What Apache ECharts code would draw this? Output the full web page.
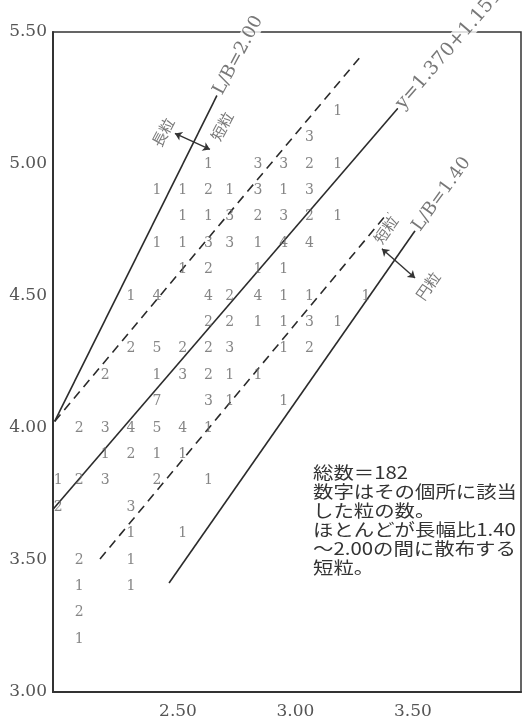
<!DOCTYPE html>
<html>
<head>
<meta charset="utf-8">
<script src="https://cdn.jsdelivr.net/npm/echarts@6/dist/echarts.min.js"></script>
<style>
  html, body { margin: 0; padding: 0; background: #fff; }
  #chart { width: 523px; height: 725px; }
</style>
</head>
<body>
<div id="chart"></div>
<script>
// 軸の範囲
const xMin = 1.968, xMax = 3.96;
const yMin = 3.0, yMax = 5.5;
const xTickValues = [2.5, 3.0, 3.5];

// 粒数の格子: 列の x / 行の y
const colX = [1.99, 2.08, 2.19, 2.30, 2.41, 2.52, 2.63, 2.72, 2.84, 2.95, 3.06, 3.18, 3.30];
const rowY = [5.2, 5.1, 5.0, 4.9, 4.8, 4.7, 4.6, 4.5, 4.4, 4.3, 4.2, 4.1, 4.0, 3.9, 3.8, 3.7, 3.6, 3.5, 3.4, 3.3, 3.2];
const grainCounts = [
  [0,0,0,0,0,0,0,0,0,0,0,1,0], // 5.2
  [0,0,0,0,0,0,0,0,0,0,3,0,0], // 5.1
  [0,0,0,0,0,0,1,0,3,3,2,1,0], // 5.0
  [0,0,0,0,1,1,2,1,3,1,3,0,0], // 4.9
  [0,0,0,0,0,1,1,3,2,3,2,1,0], // 4.8
  [0,0,0,0,1,1,3,3,1,4,4,0,0], // 4.7
  [0,0,0,0,0,1,2,0,1,1,0,0,0], // 4.6
  [0,0,0,1,4,0,4,2,4,1,1,0,1], // 4.5
  [0,0,0,0,0,0,2,2,1,1,3,1,0], // 4.4
  [0,0,0,2,5,2,2,3,0,1,2,0,0], // 4.3
  [0,0,2,0,1,3,2,1,1,0,0,0,0], // 4.2
  [0,0,0,0,7,0,3,1,0,1,0,0,0], // 4.1
  [0,2,3,4,5,4,1,0,0,0,0,0,0], // 4.0
  [0,0,1,2,1,1,0,0,0,0,0,0,0], // 3.9
  [1,2,3,0,2,0,1,0,0,0,0,0,0], // 3.8
  [2,0,0,3,0,0,0,0,0,0,0,0,0], // 3.7
  [0,0,0,1,0,1,0,0,0,0,0,0,0], // 3.6
  [0,2,0,1,0,0,0,0,0,0,0,0,0], // 3.5
  [0,1,0,1,0,0,0,0,0,0,0,0,0], // 3.4
  [0,2,0,0,0,0,0,0,0,0,0,0,0], // 3.3
  [0,1,0,0,0,0,0,0,0,0,0,0,0]  // 3.2
];

// 境界線・回帰線 (始点, 終点)
const lineLB200 = [[1.975, 4.025], [2.666, 5.26]];
const lineLB140 = [[2.462, 3.413], [3.509, 4.747]];
const lineRegression = [[1.970, 3.694], [3.436, 5.211]];
const dashUpper = [[1.975, 4.025], [3.283, 5.413]];
const dashLower = [[2.168, 3.504], [3.394, 4.816]];

// 矢印と区分名
const arrowUpper = [[2.487, 5.116], [2.636, 5.055]];
const arrowLower = [[3.368, 4.679], [3.509, 4.568]];
const zoneNames = ['長粒', '短粒', '短粒', '円粒'];
const zonePos = [[2.436, 5.120], [2.687, 5.143], [3.385, 4.751], [3.564, 4.538]];
const zoneRot = [62, 62, 55, 55];

const noteLines = [
  '総数＝182',
  '数字はその個所に該当',
  'した粒の数。',
  'ほとんどが長幅比1.40',
  '～2.00の間に散布する',
  '短粒。'
];

const serif = '"DejaVu Serif", "Liberation Serif", serif';
const cjk = '"Noto Sans CJK JP", sans-serif';

const countData = [];
grainCounts.forEach((row, i) => {
  row.forEach((n, j) => {
    if (n > 0) countData.push([colX[j], rowY[i], n]);
  });
});

function lineSeries(data, dashed) {
  return {
    type: 'line',
    data: data,
    symbol: 'none',
    silent: true,
    lineStyle: { color: '#2b2b2b', width: 1.6, type: dashed ? [9, 6] : 'solid' },
    z: 2
  };
}

const chart = echarts.init(document.getElementById('chart'));
chart.setOption({
  animation: false,
  backgroundColor: '#fff',
  grid: { left: 53, right: 2, top: 32, bottom: 33, show: true, borderColor: '#333', borderWidth: 1.5 },
  xAxis: {
    type: 'value', min: xMin, max: xMax,
    axisLine: { show: true, lineStyle: { color: '#333', width: 2 } },
    axisTick: { show: false },
    splitLine: { show: false },
    axisLabel: {
      customValues: xTickValues,
      formatter: v => v.toFixed(2),
      color: '#555', fontFamily: serif, fontSize: 17, margin: 11
    }
  },
  yAxis: {
    type: 'value', min: yMin, max: yMax, interval: 0.5,
    axisLine: { show: true, lineStyle: { color: '#333', width: 2 } },
    axisTick: { show: false },
    splitLine: { show: false },
    axisLabel: { formatter: v => v.toFixed(2), color: '#555', fontFamily: serif, fontSize: 17, margin: 6 }
  },
  series: [
    lineSeries(lineLB200, false),
    lineSeries(lineLB140, false),
    lineSeries(lineRegression, false),
    lineSeries(dashUpper, true),
    lineSeries(dashLower, true),
    {
      type: 'scatter',
      data: countData,
      symbolSize: 0,
      silent: true,
      z: 3,
      label: {
        show: true, position: 'inside',
        formatter: p => p.value[2],
        color: '#666', fontFamily: serif, fontSize: 14
      }
    },
    {
      // 線端のラベル
      type: 'scatter',
      symbolSize: 0,
      silent: true,
      z: 4,
      label: {
        show: true, position: 'inside', align: 'left', verticalAlign: 'middle',
        formatter: '{b}', color: '#555', fontFamily: serif, fontSize: 18,
        backgroundColor: '#fff', padding: [0, 2]
      },
      data: [
        { name: 'L/B=2.00', value: lineLB200[1], label: { rotate: 62 } },
        { name: 'y=1.370+1.151x', value: lineRegression[1], label: { rotate: 49, fontSize: 19 } },
        { name: 'L/B=1.40', value: lineLB140[1], label: { rotate: 54 } }
      ]
    },
    {
      type: 'scatter',
      symbolSize: 0,
      silent: true,
      z: 4,
      label: { show: true, position: 'inside', formatter: '{b}', color: '#555', fontFamily: cjk, fontSize: 15 },
      data: zoneNames.map((n, i) => ({ name: n, value: zonePos[i], label: { rotate: zoneRot[i] } }))
    },
    {
      type: 'lines',
      coordinateSystem: 'cartesian2d',
      symbol: ['arrow', 'arrow'],
      symbolSize: 7,
      silent: true,
      z: 4,
      lineStyle: { color: '#333', width: 1.4, opacity: 1 },
      data: [{ coords: arrowUpper }, { coords: arrowLower }]
    }
  ],
  graphic: [{
    type: 'text',
    x: 313,
    y: 463,
    scaleX: 1.2,
    style: {
      text: noteLines.join('\n'),
      font: '17px ' + cjk,
      fill: '#333',
      lineHeight: 19
    }
  }]
});
</script>
</body>
</html>
